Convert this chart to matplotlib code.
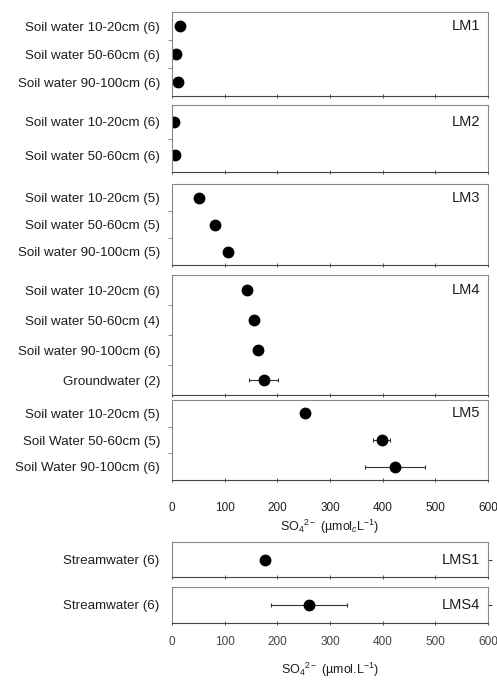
import matplotlib
matplotlib.use("Agg")
import matplotlib.pyplot as plt
import matplotlib.transforms as mtrans

plt.rcParams['font.family'] = ['Liberation Sans', 'DejaVu Sans']
plt.rcParams['mathtext.fontset'] = 'custom'
plt.rcParams['mathtext.rm'] = 'Liberation Sans'
plt.rcParams['mathtext.it'] = 'Liberation Sans:italic'

# panel data: category labels, mean SO4 and standard error
lm1_labels = ['Soil water 10-20cm (6)', 'Soil water 50-60cm (6)', 'Soil water 90-100cm (6)']
lm1_mean = [16, 7, 12]
lm1_err = [0, 0, 0]

lm2_labels = ['Soil water 10-20cm (6)', 'Soil water 50-60cm (6)']
lm2_mean = [4, 6]
lm2_err = [0, 0]

lm3_labels = ['Soil water 10-20cm (5)', 'Soil water 50-60cm (5)', 'Soil water 90-100cm (5)']
lm3_mean = [52, 81, 106]
lm3_err = [0, 0, 0]

lm4_labels = ['Soil water 10-20cm (6)', 'Soil water 50-60cm (4)', 'Soil water 90-100cm (6)', 'Groundwater (2)']
lm4_mean = [142, 156, 163, 174]
lm4_err = [0, 0, 0, 28]

lm5_labels = ['Soil water 10-20cm (5)', 'Soil Water 50-60cm (5)', 'Soil Water 90-100cm (6)']
lm5_mean = [253, 398, 423]
lm5_err = [5, 16, 57]

lms1_labels = ['Streamwater (6)']
lms1_mean = [176]
lms1_err = [0]

lms4_labels = ['Streamwater (6)']
lms4_mean = [260]
lms4_err = [72]

panels = [
    ('LM1', lm1_labels, lm1_mean, lm1_err, 12, 96),
    ('LM2', lm2_labels, lm2_mean, lm2_err, 105, 172),
    ('LM3', lm3_labels, lm3_mean, lm3_err, 184, 265),
    ('LM4', lm4_labels, lm4_mean, lm4_err, 275, 395),
    ('LM5', lm5_labels, lm5_mean, lm5_err, 400, 480),
    ('LMS1', lms1_labels, lms1_mean, lms1_err, 542, 577),
    ('LMS4', lms4_labels, lms4_mean, lms4_err, 587, 623),
]

W, H = 497, 682
fig = plt.figure(figsize=(W / 100, H / 100), dpi=100)
x0, x1 = 172, 488
txt = '#1e1e1e'

for name, labels, mean, err, top, bot in panels:
    ax = fig.add_axes([x0 / W, 1 - bot / H, (x1 - x0) / W, (bot - top) / H])
    n = len(labels)
    y = list(range(n))
    ax.errorbar(mean, y, xerr=err, fmt='o', color='black', ms=7.5,
                elinewidth=0.8, ecolor='#333333', capsize=1.5, capthick=0.8)
    ax.set_xlim(0, 600)
    ax.set_ylim(n - 0.5, -0.5)
    ax.set_yticks(y)
    ax.set_yticklabels(labels, fontsize=9.6, color=txt)
    ax.set_yticks([k + 0.5 for k in range(n - 1)], minor=True)
    ax.set_xticks(range(0, 601, 100))
    for s in ax.spines.values():
        s.set_color('#888888')
        s.set_linewidth(0.8)
    ax.spines['bottom'].set_color('#444444')
    ax.tick_params(axis='x', direction='inout', length=3, width=0.7, color='#555555',
                   labelsize=8.5, labelcolor=txt)
    ax.tick_params(axis='y', which='minor', direction='out', length=3, width=0.6, color='#777777')
    if name.startswith('LMS'):
        ax.tick_params(axis='y', which='major', left=False, right=True, labelleft=True,
                       direction='out', length=3, width=0.8, color='#444444', pad=6)
    else:
        ax.tick_params(axis='y', which='major', length=0, pad=8.5)
    tr = mtrans.blended_transform_factory(ax.transAxes, ax.transData)
    ax.text(0.975, 0, name, transform=tr,
            ha='right', va='center', fontsize=10.5, color=txt)
    if name == 'LM5':
        ax.tick_params(axis='x', pad=14)
        ax.set_xlabel('SO$_4$$^{2-}$ (µmol$_c$L$^{-1}$)', fontsize=9, color=txt, labelpad=3)
    elif name == 'LMS4':
        ax.tick_params(axis='x', pad=8, labelcolor='#444444')
        ax.set_xlabel('SO$_4$$^{2-}$ (µmol.L$^{-1}$)', fontsize=9, color=txt, labelpad=9)
    else:
        ax.tick_params(axis='x', labelbottom=False)

fig.savefig('out.png', dpi=100)
